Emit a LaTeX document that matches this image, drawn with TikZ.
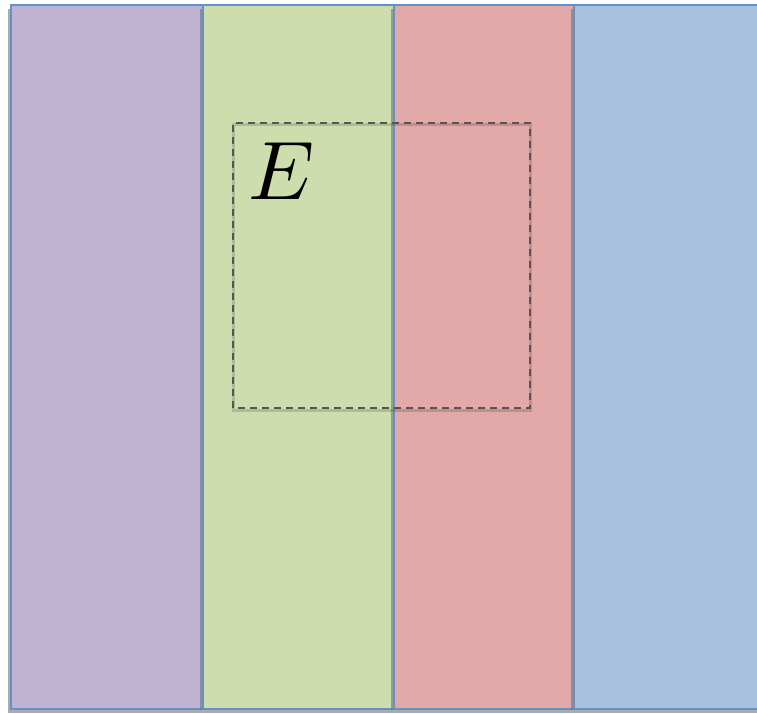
\documentclass[tikz,border=0pt]{standalone}
\usetikzlibrary{shadows}
\definecolor{cpurple}{RGB}{192,178,211}
\definecolor{cgreen}{RGB}{205,221,173}
\definecolor{cred}{RGB}{227,168,168}
\definecolor{cblue}{RGB}{167,193,223}
\definecolor{cborder}{RGB}{96,146,204}
\definecolor{cdash}{RGB}{85,85,85}
\tikzset{
  strip/.style={draw=cborder, line width=2.2pt,
    drop shadow={shadow xshift=-3pt, shadow yshift=-4pt, opacity=0.6, fill=black!55}},
  dashbox/.style={draw=cdash, line width=1.7pt, dash pattern=on 7pt off 5pt,
    drop shadow={shadow xshift=0pt, shadow yshift=-2pt, opacity=0.15, fill=none, draw=black, line width=3pt}},
}
\begin{document}
\begin{tikzpicture}[x=1pt,y=1pt]
\useasboundingbox[fill=white] (0,0) rectangle (757,713);
\path[strip, fill=cpurple] (11,4) rectangle (203,708);
\path[strip, fill=cgreen] (203,4) rectangle (394,708);
\path[strip, fill=cred] (394,4) rectangle (574,708);
\path[strip, fill=cblue] (574,4) rectangle (764,708);
\path[dashbox] (233,305) rectangle (530,590);
\node[scale=8.3] (E) at (282,542) {$E$};
\end{tikzpicture}
\end{document}
